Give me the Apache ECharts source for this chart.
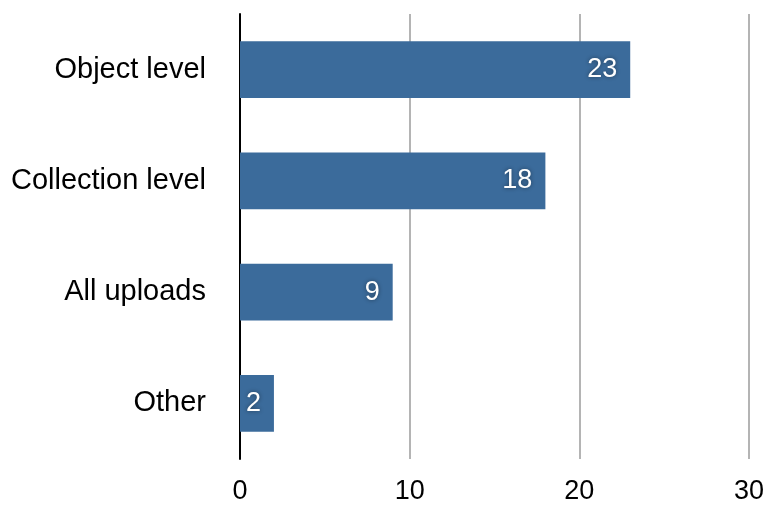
<!DOCTYPE html>
<html>
<head>
<meta charset="utf-8">
<script src="https://cdn.jsdelivr.net/npm/echarts@6/dist/echarts.min.js"></script>
<style>
  html, body { margin: 0; padding: 0; background: #fff; }
  #chart { width: 767px; height: 505px; }
</style>
</head>
<body>
<div id="chart"></div>
<script>
var categories = ['Object level', 'Collection level', 'All uploads', 'Other'];
var values = [23, 18, 9, 2];
var xTicks = [0, 10, 20, 30];

var chart = echarts.init(document.getElementById('chart'), null, { renderer: 'canvas' });
var font = '"Liberation Sans", Arial, Helvetica, sans-serif';

chart.setOption({
  animation: false,
  grid: { left: 240, right: 14, top: 14, bottom: 44, containLabel: false },
  xAxis: {
    type: 'value',
    min: xTicks[0],
    max: xTicks[xTicks.length - 1],
    interval: 10,
    axisLine: { show: false },
    axisTick: { show: false },
    axisLabel: { color: '#000', fontSize: 27, fontFamily: font, margin: 19 },
    splitLine: { show: true, lineStyle: { color: '#b4b4b4', width: 2 } }
  },
  yAxis: {
    type: 'category',
    data: categories,
    inverse: true,
    axisLine: { show: true, onZero: false, lineStyle: { color: '#000', width: 2 } },
    axisTick: { show: false },
    axisLabel: { color: '#000', fontSize: 29, fontFamily: font, margin: 34, padding: [7, 0, 0, 0] },
    splitLine: { show: false }
  },
  series: [{
    type: 'bar',
    data: values,
    barCategoryGap: '49%',
    itemStyle: { color: '#3b6b9b' },
    label: {
      show: true,
      position: 'insideRight',
      distance: 13,
      color: '#fff',
      fontSize: 27,
      fontFamily: font,
      padding: [5, 0, 0, 0],
      textShadowColor: 'rgba(0,0,0,0.45)',
      textShadowBlur: 4
    }
  }]
});
</script>
</body>
</html>
